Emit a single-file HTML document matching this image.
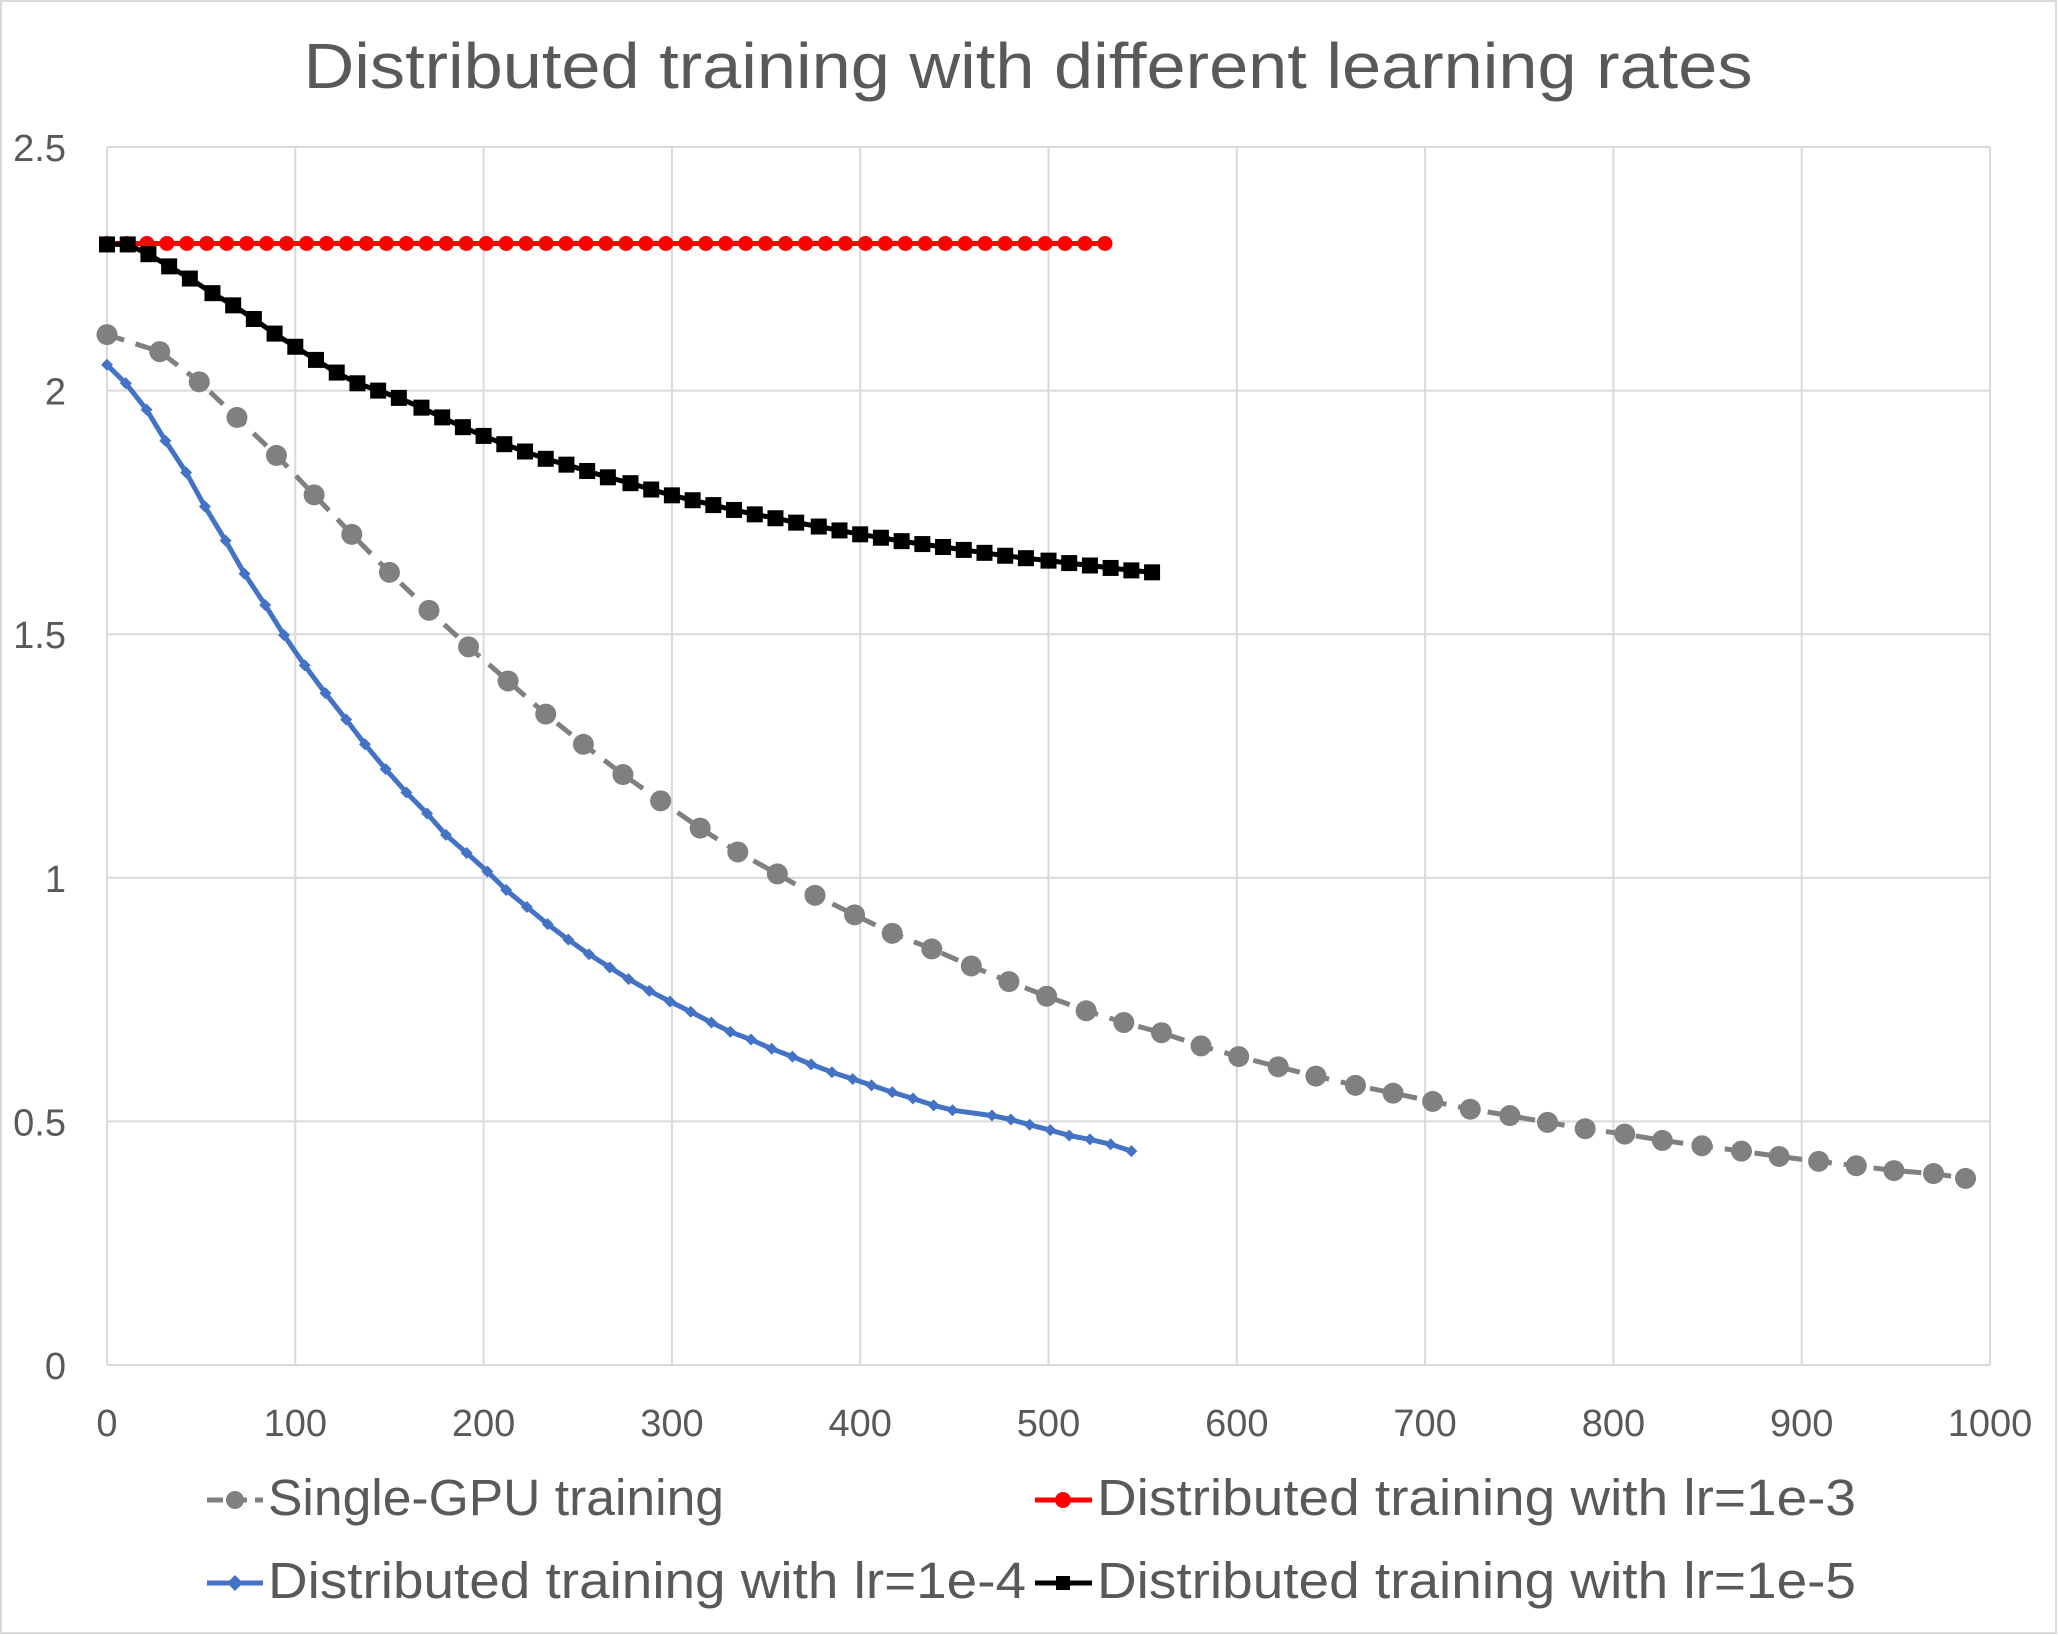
<!DOCTYPE html>
<html><head><meta charset="utf-8"><style>
html,body{margin:0;padding:0;background:#fff}
svg{display:block}
text{font-family:"Liberation Sans",sans-serif;fill:#595959}
</style></head><body>
<svg id="chart" width="2058" height="1635" viewBox="0 0 2058 1635">
<rect x="1" y="1" width="2055" height="1632" fill="#fff" stroke="#d9d9d9" stroke-width="2"/>
<text x="1028" y="88" font-size="64" text-anchor="middle" textLength="1449" lengthAdjust="spacingAndGlyphs">Distributed training with different learning rates</text>
<g id="grid"></g>
<g id="yticks"></g>
<g id="xticks"></g>
<g id="series"></g>
<g id="legend">
  <g>
    <line x1="207" y1="1500" x2="263" y2="1500" stroke="#808080" stroke-width="5" stroke-dasharray="16,8"/>
    <circle cx="235" cy="1500" r="9" fill="#808080"/>
    <text x="268" y="1515" font-size="51" textLength="456" lengthAdjust="spacingAndGlyphs">Single-GPU training</text>
  </g>
  <g>
    <line x1="1035" y1="1500" x2="1092" y2="1500" stroke="#ff0000" stroke-width="5"/>
    <circle cx="1063" cy="1500" r="8" fill="#ff0000"/>
    <text x="1097" y="1515" font-size="51" textLength="759" lengthAdjust="spacingAndGlyphs">Distributed training with lr=1e-3</text>
  </g>
  <g>
    <line x1="207" y1="1583" x2="263" y2="1583" stroke="#4472c4" stroke-width="5"/>
    <polygon points="235,1575 243,1583 235,1591 227,1583" fill="#4472c4"/>
    <text x="268" y="1598" font-size="51" textLength="758" lengthAdjust="spacingAndGlyphs">Distributed training with lr=1e-4</text>
  </g>
  <g>
    <line x1="1035" y1="1583" x2="1092" y2="1583" stroke="#000" stroke-width="5"/>
    <rect x="1056" y="1576" width="14" height="14" fill="#000"/>
    <text x="1097" y="1598" font-size="51" textLength="759" lengthAdjust="spacingAndGlyphs">Distributed training with lr=1e-5</text>
  </g>
</g>
</svg>
<script>
const xTicks = [0,100,200,300,400,500,600,700,800,900,1000];
const yTicks = [0,0.5,1,1.5,2,2.5];
const yTickLabels = ["0","0.5","1","1.5","2","2.5"];

const singleX = [0,28,49,69,90,110,130,150,171,192,213,233,253,274,294,315,335,356,376,397,417,438,459,479,499,520,540,560,581,601,622,642,663,683,704,724,745,765,785,806,826,847,868,888,909,929,949,970,987];
const singleY = [2.115,2.08,2.018,1.945,1.867,1.786,1.705,1.627,1.549,1.474,1.404,1.336,1.274,1.212,1.158,1.102,1.053,1.008,0.964,0.924,0.886,0.854,0.819,0.787,0.757,0.727,0.703,0.682,0.655,0.633,0.612,0.593,0.574,0.558,0.541,0.525,0.512,0.498,0.485,0.474,0.461,0.450,0.439,0.428,0.418,0.409,0.399,0.393,0.383];

const lr3X = [0,10.6,21.2,31.8,42.4,53,63.6,74.2,84.8,95.4,106,116.6,127.2,137.8,148.4,159,169.6,180.2,190.8,201.4,212,222.6,233.2,243.8,254.4,265,275.6,286.2,296.8,307.4,318,328.6,339.2,349.8,360.4,371,381.6,392.2,402.8,413.4,424,434.6,445.2,455.8,466.4,477,487.6,498.2,508.8,519.4,530];
const lr3Y = [2.302,2.302,2.302,2.302,2.302,2.302,2.302,2.302,2.302,2.302,2.302,2.302,2.302,2.302,2.302,2.302,2.302,2.302,2.302,2.302,2.302,2.302,2.302,2.302,2.302,2.302,2.302,2.302,2.302,2.302,2.302,2.302,2.302,2.302,2.302,2.302,2.302,2.302,2.302,2.302,2.302,2.302,2.302,2.302,2.302,2.302,2.302,2.302,2.302,2.302,2.302];

const lr4X = [0,10,21,31,42,52,63,73,84,94,105,116,127,137,148,159,170,180,191,202,212,223,234,245,256,267,277,288,299,310,321,331,342,353,364,374,385,396,406,417,428,439,449,470,480,490,501,511,522,533,544];
const lr4Y = [2.053,2.015,1.961,1.897,1.832,1.762,1.692,1.624,1.56,1.498,1.436,1.379,1.325,1.274,1.223,1.175,1.132,1.088,1.051,1.013,0.975,0.94,0.905,0.873,0.843,0.816,0.792,0.768,0.746,0.725,0.703,0.684,0.668,0.649,0.633,0.617,0.601,0.587,0.574,0.56,0.547,0.533,0.523,0.512,0.504,0.493,0.482,0.471,0.463,0.453,0.439];

const lr5X = [0,11,22,33,44,56,67,78,89,100,111,122,133,144,155,167,178,189,200,211,222,233,244,255,266,278,289,300,311,322,333,344,355,366,378,389,400,411,422,433,444,455,466,477,488,500,511,522,533,544,555];
const lr5Y = [2.30,2.30,2.28,2.255,2.23,2.20,2.175,2.147,2.117,2.09,2.063,2.037,2.015,2.0,1.985,1.965,1.945,1.925,1.907,1.89,1.875,1.86,1.848,1.835,1.822,1.81,1.797,1.785,1.775,1.765,1.755,1.746,1.738,1.729,1.721,1.713,1.705,1.698,1.691,1.685,1.679,1.673,1.667,1.661,1.656,1.651,1.646,1.641,1.636,1.631,1.627];

const NS = "http://www.w3.org/2000/svg";
const L = 107, R = 1990, T = 147, B = 1365;
const xMax = 1000, yMax = 2.5;
function sx(v){ return L + v / xMax * (R - L); }
function sy(v){ return B - v / yMax * (B - T); }
function mk(tag, attrs, parent){
  const e = document.createElementNS(NS, tag);
  for (const k in attrs) e.setAttribute(k, attrs[k]);
  parent.appendChild(e);
  return e;
}
const grid = document.getElementById('grid');
xTicks.forEach(t => {
  const ln = mk('line', {x1: sx(t), x2: sx(t), y1: T, y2: B, stroke: '#d9d9d9', 'stroke-width': 2}, grid);
  
  
});
yTicks.forEach(t => {
  const ln = mk('line', {x1: L, x2: R, y1: sy(t), y2: sy(t), stroke: '#d9d9d9', 'stroke-width': 2}, grid);
  
  
});
const yt = document.getElementById('yticks');
yTicks.forEach((t, i) => {
  const tx = mk('text', {x: 66, y: sy(t) + 14, 'font-size': 38, 'text-anchor': 'end'}, yt);
  tx.textContent = yTickLabels[i];
  
  
});
const xt = document.getElementById('xticks');
xTicks.forEach(t => {
  const tx = mk('text', {x: sx(t), y: 1436, 'font-size': 38, 'text-anchor': 'middle'}, xt);
  tx.textContent = String(t);
  
  
});
const sg = document.getElementById('series');
function pts(xs, ys){ return xs.map((x, i) => sx(x).toFixed(1) + ',' + sy(ys[i]).toFixed(1)).join(' '); }
function drawSeries(xs, ys, color, dash, marker, name){
  const g = mk('g', {}, sg);
  
  
  const pl = mk('polyline', {points: pts(xs, ys), fill: 'none', stroke: color, 'stroke-width': 5, 'stroke-linejoin': 'round'}, g);
  if (dash) pl.setAttribute('stroke-dasharray', dash);
  
  
  xs.forEach((x, i) => {
    const cx = sx(x), cy = sy(ys[i]);
    let m;
    if (marker === 'bigcircle') m = mk('circle', {cx: cx, cy: cy, r: 10.5, fill: color}, g);
    else if (marker === 'circle') m = mk('circle', {cx: cx, cy: cy, r: 7.5, fill: color}, g);
    else if (marker === 'square') m = mk('rect', {x: cx - 8, y: cy - 8, width: 16, height: 16, fill: color}, g);
    else m = mk('polygon', {points: `${cx},${cy-6} ${cx+6},${cy} ${cx},${cy+6} ${cx-6},${cy}`, fill: color}, g);
    
    
  });
}
drawSeries(singleX, singleY, '#808080', '18,12', 'bigcircle', 'single-gpu-series');
drawSeries(lr4X, lr4Y, '#4472c4', null, 'diamond', 'lr-1e-4-series');
drawSeries(lr3X, lr3Y, '#ff0000', null, 'circle', 'lr-1e-3-series');
drawSeries(lr5X, lr5Y, '#000000', null, 'square', 'lr-1e-5-series');
</script>
</body></html>
